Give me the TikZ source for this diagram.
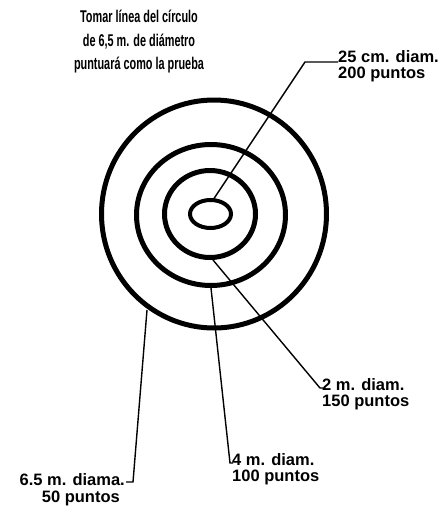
\documentclass[tikz,border=0pt]{standalone}
\usepackage{fontspec}
\setmainfont{Liberation Sans}
\begin{document}
\begin{tikzpicture}[x=1pt,y=-1pt,
  ring/.style={draw=black,line width=5pt},
  leader/.style={draw=black,line width=1.4pt,line join=miter},
  lbl/.style={font=\bfseries\fontsize{16.5}{16}\selectfont,inner sep=0pt,align=left,anchor=base west},
  ttl/.style={font=\bfseries\fontsize{17}{23.5}\selectfont,inner sep=0pt,align=center}]
\useasboundingbox (0,0) rectangle (442,509);
% rings
\draw[ring] (214,214) ellipse (112.5 and 114);
\draw[ring] (211,215) ellipse (74.5 and 70.5);
\draw[ring] (210,214) ellipse (45.5 and 43.5);
\draw[draw=black,line width=4pt] (210.5,214) ellipse (20.5 and 14);
% leader start points
\coordinate (s25) at (213,200);
\coordinate (s2) at (213,260);
\coordinate (s4) at (211,288);
\coordinate (s65) at (147,310);
\coordinate (b25) at (305,62);
\coordinate (e25) at (338,62);
\coordinate (b2) at (320,388);
\coordinate (e2) at (323,388);
\coordinate (b4) at (230,463);
\coordinate (e4) at (233,463);
\coordinate (b65) at (133,482);
\coordinate (e65) at (126,482);
% title
\node[ttl] (title) at (139,42) {\scalebox{0.64}[1]{Tomar línea del círculo}\\
  \scalebox{0.64}[1]{de 6,5 m. de diámetro}\\
  \scalebox{0.64}[1]{puntuará como la prueba}};
% labels
\node[lbl] (l25) at (338,78) {25 cm. diam.\\200 puntos};
\node[lbl] (l2) at (322,406) {2 m. diam.\\150 puntos};
\node[lbl] (l4) at (232,481) {4 m. diam.\\100 puntos};
\node[lbl,anchor=base east] (l65a) at (125,485) {6.5 m. diama.};
\node[lbl,anchor=base east] (l65b) at (120,502) {50 puntos};
% leaders
\draw[leader] (s25) -- (b25) -- (e25);
\draw[leader] (s2) -- (b2) -- (e2);
\draw[leader] (s4) -- (b4) -- (e4);
\draw[leader] (s65) -- (b65) -- (e65);
\end{tikzpicture}
\end{document}
